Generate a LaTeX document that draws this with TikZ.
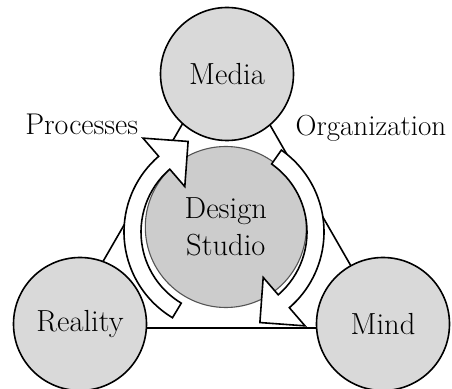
\documentclass[tikz,border=0pt]{standalone}
\usetikzlibrary{calc}
\definecolor{circfill}{HTML}{D9D9D9}
\definecolor{corefill}{HTML}{CCCCCC}
\definecolor{coreline}{HTML}{555555}
\begin{document}
\begin{tikzpicture}[x=1pt,y=1pt,
  outer/.style={circle,draw=black,line width=1.6pt,fill=circfill,minimum size=133pt,inner sep=0pt,font=\fontsize{30.5}{36}\selectfont},
  core/.style={circle,draw=coreline,line width=1.1pt,fill=corefill,minimum size=161pt,inner sep=0pt,align=center,font=\fontsize{30.5}{37}\selectfont},
  tri/.style={line width=1.6pt,draw=black},
  ringarrow/.style={draw=black,fill=white,line width=1.6pt,line join=miter},
  lbl/.style={inner sep=0pt,font=\fontsize{30}{36}\selectfont}]
\useasboundingbox (0,0) rectangle (452,388);
\coordinate (T1) at (226,339.6);
\coordinate (T2) at (64.6,60);
\coordinate (T3) at (386.6,60);
\draw[tri] (T1) -- (T2) -- (T3) -- cycle;
\node[outer] (media) at (227,314) {Media};
\node[outer] (reality) at (80,64) {Reality};
\node[outer] (mind) at (383,64) {Mind};
\node[core] (studio) at (225.8,161) {Design\\Studio};
\coordinate (A) at (224,156);
\draw[ringarrow] ($(A)+(239:100)$) arc[start angle=239,end angle=130.8,radius=100]
  -- ($(A)+(130.8:124)$) -- ($(A)+(130.8:92)+(40.8:32)$) -- ($(A)+(130.8:60)$)
  -- ($(A)+(130.8:83)$) arc[start angle=130.8,end angle=239,radius=83] -- cycle;
\draw[ringarrow] ($(A)+(55:100)$) arc[start angle=55,end angle=-49.2,radius=100]
  -- ($(A)+(-49.2:124)$) -- ($(A)+(-49.2:92)+(-139.2:32)$) -- ($(A)+(-49.2:60)$)
  -- ($(A)+(-49.2:83)$) arc[start angle=-49.2,end angle=55,radius=83] -- cycle;
\node[lbl,anchor=base] (proc) at (81.7,253) {Processes};
\node[lbl,anchor=base,font=\fontsize{29}{35}\selectfont] (org) at (371,252) {Organization};
\end{tikzpicture}
\end{document}
